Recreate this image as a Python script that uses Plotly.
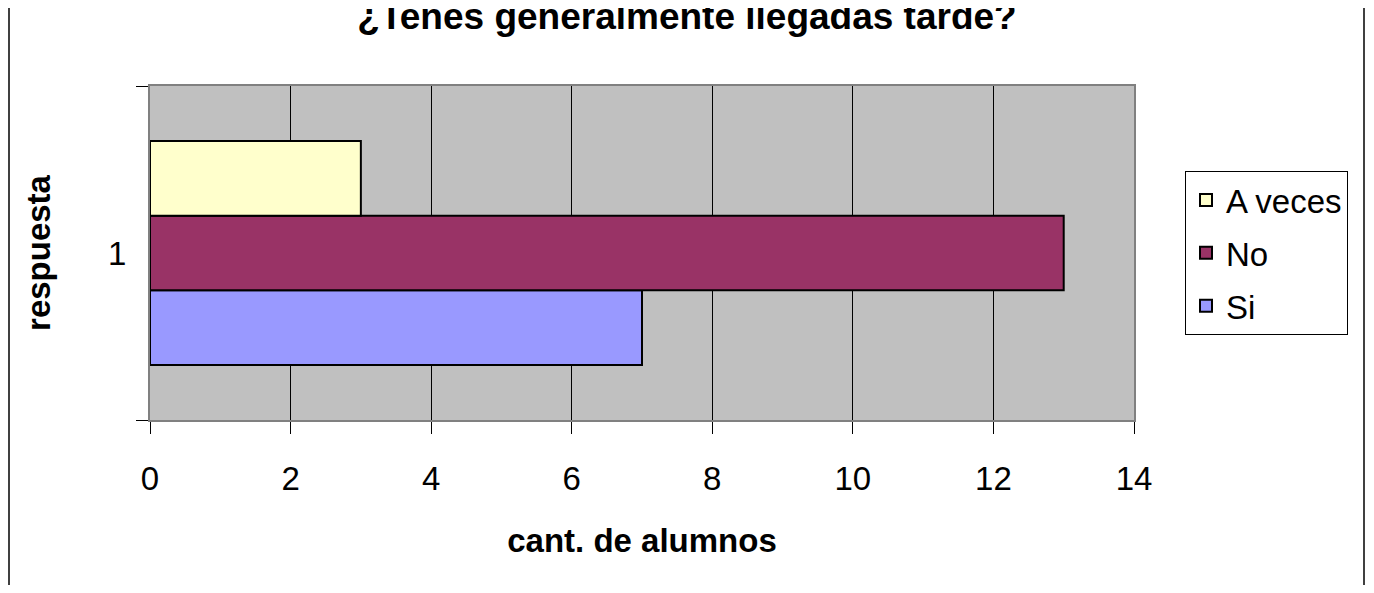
import plotly.graph_objects as go

categories = ["1"]
series_names = ["Si", "No", "A veces"]
series_values = [[7], [13], [3]]
series_colors = ["#9999FF", "#993366", "#FFFFCC"]
legend_ranks = [3, 2, 1]
x_ticks = [0, 2, 4, 6, 8, 10, 12, 14]

FONT = "Liberation Sans, Arial, sans-serif"
W, H = 1358, 577          # page body has an 8px margin on every side
L, T = 142, 78
PW, PH = 984, 334
R, B = W - L - PW, H - T - PH

fig = go.Figure()
for name, vals, col, rk in zip(series_names, series_values, series_colors, legend_ranks):
    fig.add_trace(go.Bar(
        y=categories, x=vals, name=name, orientation="h",
        marker=dict(color=col, line=dict(color="black", width=2)),
        legendgroup=name, legendrank=rk,
    ))

fig.update_layout(
    width=W, height=H,
    margin=dict(l=L, r=R, t=T, b=B),
    paper_bgcolor="white", plot_bgcolor="#C0C0C0",
    barmode="group", bargap=0.33, bargroupgap=0,
    font=dict(family=FONT, size=33, color="black"),
    title=dict(text="<b>¿Tenes generalmente llegadas tarde?</b>",
               x=(687 - 8) / W, xanchor="center", xref="container",
               y=1 - 8 / H, yanchor="middle", yref="container",
               font=dict(family=FONT, size=37, color="black")),
    legend=dict(x=(1185 - 8 - L) / PW, y=(T + PH - (171 - 8)) / PH,
                xanchor="left", yanchor="top",
                bordercolor="black", borderwidth=1, bgcolor="white",
                traceorder="grouped", tracegroupgap=7,
                font=dict(family=FONT, size=33)),
    showlegend=True,
)

fig.update_xaxes(
    range=[0, 14], tickvals=x_ticks, ticktext=[str(v) for v in x_ticks],
    showgrid=True, gridcolor="black", gridwidth=1,
    ticks="outside", ticklen=12, tickcolor="black", tickwidth=1,
    ticklabelstandoff=16,
    showline=True, linecolor="#808080", linewidth=2, mirror=True,
    zeroline=False,
    title=dict(text="<b>cant. de alumnos</b>", standoff=33,
               font=dict(family=FONT, size=33)),
    automargin=False,
)
fig.update_yaxes(
    type="category", showgrid=False,
    ticks="outside", tickson="boundaries", ticklen=12, tickcolor="black", tickwidth=1,
    ticklabelstandoff=15,
    showline=True, linecolor="#808080", linewidth=2, mirror=True,
    title=dict(text="<b>respuesta</b>", standoff=47,
               font=dict(family=FONT, size=33)),
    automargin=False,
)

# outer chart-border fragments at left and right edges
for px in (1, W - 2):
    xp = (px - L) / PW
    fig.add_shape(type="line", xref="paper", yref="paper",
                  x0=xp, x1=xp, y0=(T + PH - H - 5) / PH, y1=(T + PH + 5) / PH,
                  line=dict(color="#404040", width=2))

fig.write_html("out.html")
